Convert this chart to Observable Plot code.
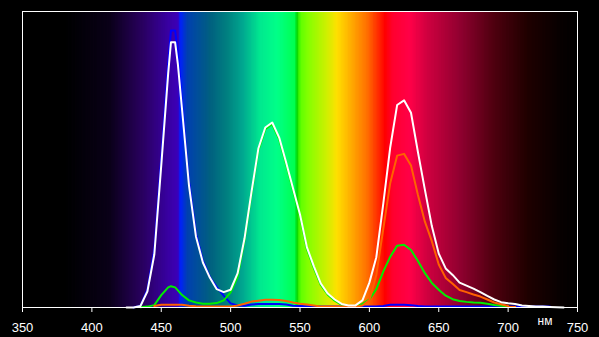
<!DOCTYPE html>
<html>
<head>
<meta charset="utf-8">
<script src="https://cdn.jsdelivr.net/npm/d3@7"></script>
<script src="https://cdn.jsdelivr.net/npm/@observablehq/plot@0.6"></script>
<style>
  html, body { margin: 0; padding: 0; background: #000; }
  #chart { width: 599px; height: 337px; overflow: hidden; }
</style>
</head>
<body>
<div id="chart"></div>
<script>
// Wavelengths (nm) shared by all series
const wavelength = [425,430,435,440,445,450,455,457,460,462,465,470,475,480,485,490,495,500,505,510,515,520,525,530,535,540,545,550,555,560,565,570,575,580,585,590,595,600,605,610,615,620,625,630,635,640,645,650,655,660,665,670,675,680,685,690,695,700,705,710,715,720,725,730,735,740];

// Relative intensity (%) for each channel
const whiteSeries = [0,0,0.5,5.4,17.9,48.0,79.1,89.6,89.6,82.1,66.9,41.2,24.0,15.2,10.1,6.2,5.2,6.0,11.5,23.3,38.9,53.7,60.8,62.5,57.4,49.0,40.2,31.4,20.3,13.9,8.1,4.7,2.7,1.2,0.7,0.7,2.4,8.4,17.0,35.0,54.0,68.4,70.0,65.8,52.5,39.8,27.5,18.2,13.2,11.0,8.4,7.4,6.4,5.2,3.9,2.7,1.8,1.4,1.2,0.7,0.5,0.3,0.3,0.2,0.1,0];
const redSeries = [null,null,null,null,0.5,0.9,0.9,0.9,0.9,0.9,0.9,0.6,0.4,0.3,0.3,0.3,0.3,0.3,0.7,1.25,2.0,2.3,2.6,2.6,2.5,2.2,1.7,1.3,1.0,0.7,0.3,0.3,0.3,0.3,0.3,0.3,0.7,2.5,11.0,26.5,42.0,51.3,51.9,48.0,38.0,29.0,22.4,14.5,10.0,8.0,5.9,5.2,4.4,3.7,2.7,1.7,1.1,0.5,0.2,null,null,null,null,null,null,null];
const greenSeries = [null,null,0.1,0.3,0.8,4.2,6.8,7.2,6.8,5.8,4.2,2.4,1.7,1.25,1.25,1.5,2.4,5.1,10.3,22.7,38.3,53.1,60.2,61.9,56.8,48.4,39.6,30.8,19.7,13.3,7.6,4.3,2.3,0.9,0.4,0.4,1.2,2.7,6.2,12.1,17.1,20.9,21.2,19.4,15.7,11.6,8.3,6.0,4.0,2.8,2.2,1.9,1.7,1.6,1.25,0.85,0.6,0.3,0.2,null,null,null,null,null,null,null];
const blueSeries = [null,0,0.6,6.0,19.5,50.5,82.5,93.6,93.6,86.0,68.5,42.5,25.0,15.8,10.3,6.9,4.0,1.4,0.7,0.6,1.0,1.2,1.2,1.2,1.2,1.0,0.6,0.5,0.4,0.3,0.3,0.3,0.3,0.3,0.3,0.3,0.3,0.3,0.3,0.5,0.9,0.9,0.9,0.8,0.5,0.3,0.3,0.3,0.3,0.3,0.3,0.3,0.3,0.3,0.3,0.3,0.3,0.3,0.3,0.3,0.3,0.3,0.3,0.3,null,null];

// Background spectrum colour stops
const spectrumNm = [350,380,413,437,457,462.4,463.9,469,485.5,497.7,509.3,521.5,533.8,546.5,548.2,549.2,551,555.4,569.8,577,586.4,598.6,608,611.6,617.4,629.6,641.9,665.7,689.5,714,737.7,750];
const spectrumColor = ["#000000","#000000","#0a0018","#2a0060","#3a00a8","#3c00b8","#0020ff","#0040b0","#006080","#008080","#00a890","#00e890","#00ff88","#00ff50","#00d000","#30f000","#60ff00","#80ff00","#d0f000","#ffe000","#ffb000","#ff7000","#ff2000","#ff0000","#ff0030","#ff0048","#d00040","#900030","#500010","#200000","#080000","#000000"];

const xTicks = [350,400,450,500,550,600,650,700,750];
const unitLabel = "нм";

const colorAt = d3.scaleLinear().domain(spectrumNm).range(spectrumColor).interpolate(d3.interpolateRgb).clamp(true);
const cells = d3.range(350, 750, 1).map(n => ({n}));

function rows(values) {
  return wavelength.map((w, i) => ({w, v: values[i]}));
}

const font = "'Liberation Sans', Arial, sans-serif";

const plot = Plot.plot({
  width: 599,
  height: 337,
  marginLeft: 22,
  marginRight: 22,
  marginTop: 11,
  marginBottom: 30,
  style: {background: "#000", color: "#fff", fontFamily: font, fontSize: "13px"},
  x: {domain: [350, 750]},
  y: {domain: [0, 100], axis: null},
  marks: [
    Plot.rect(cells, {x1: "n", x2: d => d.n + 1.6, fill: d => colorAt(d.n + 0.5)}),
    Plot.line(rows(blueSeries), {x: "w", y: "v", stroke: "#0000ff", strokeWidth: 2, defined: d => d.v != null}),
    Plot.line(rows(greenSeries), {x: "w", y: "v", stroke: "#00ee00", strokeWidth: 2, defined: d => d.v != null}),
    Plot.line(rows(redSeries), {x: "w", y: "v", stroke: "#ff6000", strokeWidth: 2, defined: d => d.v != null}),
    Plot.line(rows(whiteSeries), {x: "w", y: "v", stroke: "#ffffff", strokeWidth: 2, defined: d => d.v != null}),
    Plot.frame({stroke: "#fff"}),
    Plot.axisX({ticks: xTicks, tickSize: 5, tickPadding: 10, stroke: "#fff", fill: "#fff", fontSize: 13, label: null}),
    Plot.text([unitLabel], {x: 726.6, frameAnchor: "bottom", dy: 17, lineAnchor: "bottom", fill: "#fff", fontSize: 12, text: d => d})
  ]
});
document.getElementById("chart").appendChild(plot);
</script>
</body>
</html>
